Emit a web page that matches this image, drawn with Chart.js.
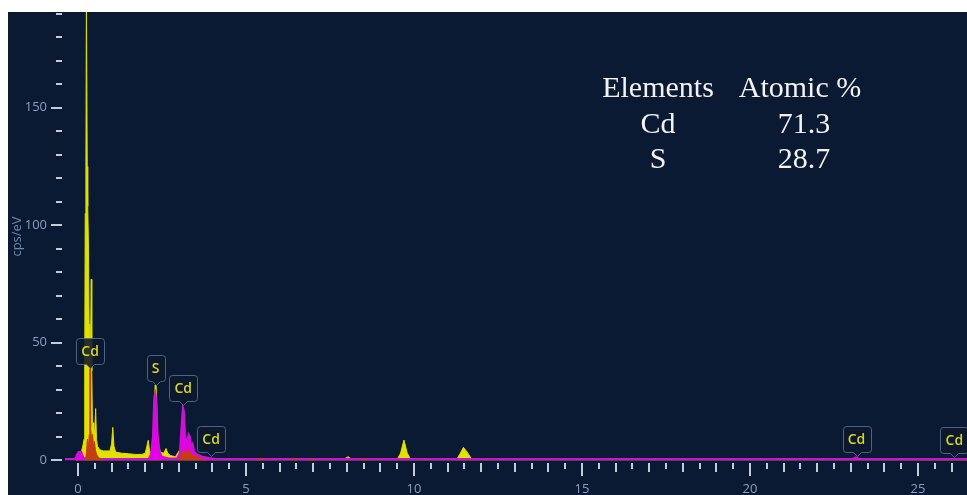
<!DOCTYPE html>
<html><head><meta charset="utf-8">
<script src="https://cdn.jsdelivr.net/npm/chart.js@4/dist/chart.umd.min.js"></script>
<style>html,body{margin:0;padding:0;background:#fff;overflow:hidden}#wrap{position:relative;width:967px;height:495px}</style>
</head><body><div id="wrap"><canvas id="c"></canvas></div>
<script>
// ---- data (energy in keV, intensity in cps/eV) ----
const yellowKeV = [-0.05,0.05,0.10,0.15,0.18,0.20,0.215,0.235,0.25,0.262,0.275,0.29,0.31,0.33,0.35,0.375,0.395,0.41,0.43,0.45,0.47,0.50,0.525,0.55,0.58,0.65,0.75,0.85,0.95,1.00,1.035,1.07,1.12,1.3,1.5,1.7,1.9,2.0,2.05,2.09,2.13,2.2,2.26,2.295,2.325,2.37,2.45,2.55,2.62,2.67,2.75,2.9,3.05,3.13,3.2,3.3,3.45,3.6,3.9,4.3,5.3,7.9,8.04,8.15,9.5,9.6,9.7,9.8,9.9,11.27,11.38,11.47,11.58,11.72,26.5];
const yellowCps = [0,0.8,3.5,6.5,9,40,105,125,196,196,125,108,92,58,45,52,77,38,16,16,11,13,22,9,6,4.5,4,4,4,7,14,6,3.5,3,2.8,2.5,2.5,3,6,8.5,4,3,15,32,32,8,3.5,3,5,3,2,1.5,5,19,6,9,3,1.5,0.8,0.4,0.4,0.4,1.5,0.4,0.4,3,8.6,3,0.4,0.4,3,5.5,3.5,0.4,0.3];

const magentaKeV = [-0.39,-0.08,-0.03,0.02,0.10,0.15,0.20,2.10,2.17,2.23,2.27,2.30,2.33,2.37,2.43,2.50,2.70,2.95,3.03,3.08,3.12,3.15,3.19,3.24,3.29,3.33,3.37,3.41,3.46,3.55,3.70,3.90,4.10,23.05,23.15,23.25,26.46];
const magentaCps = [0.5,0.5,2.5,3.5,3.5,1.5,0.6,0.6,2.5,10,27,28.5,25,11,3.5,1.5,0.8,0.9,3,14,22.5,21,10,7,11,10,6,7,3.5,2.5,1.5,1,0.6,0.6,1.3,0.6,0.5];

const cdKeV = [0.22,0.25,0.28,0.31,0.335,0.35,0.355,0.365,0.375,0.41,0.435,0.46,0.49,0.52,0.57,0.65,0.75,0.8,3.0,3.06,3.13,3.2,3.28,3.35,3.45,3.6,3.8,3.9,5.35,5.42,5.5,5.6,6.35,6.42,6.5,6.6,6.88,6.95,7.02,7.1,8.42,8.5,8.58];
const cdCps  = [0,3,9,5,11,18,39,39,14,8,11,6,8,4,2,0.6,0,null,0,2,4,3,4.5,3,2,1,0,null,0,1,0,null,0,1,0,null,0,0.8,0,null,0,0.8,0];

const peakLabelText = ['Cd','S','Cd','Cd','Cd','Cd'];
const peakLabelKeV  = [0.36,2.31,3.13,3.96,23.17,26.08];
const peakLabelCps  = [39,31.7,23,1.4,1.3,1.0];

const xTickLabels = [0,5,10,15,20,25];
const yTickLabels = [0,50,100,150];

const tableHeader   = ['Elements','Atomic %'];
const tableElements = ['Cd','S'];
const tableAtomic   = ['71.3','28.7'];

// ---- build ----
const pts = (xs, ys) => xs.map((x, i) => ({x: x, y: ys[i]}));

const bgPlugin = {
  id: 'bg',
  beforeDraw(chart) {
    const c = chart.ctx;
    c.save();
    c.fillStyle = '#ffffff';
    c.fillRect(0, 0, chart.width, chart.height);
    c.fillStyle = '#0b1a33';
    c.fillRect(8, 12, chart.width - 8, chart.height - 12);
    c.restore();
  }
};

const tickPlugin = {
  id: 'ticks',
  afterDraw(chart) {
    const c = chart.ctx, xs = chart.scales.x, ys = chart.scales.y, a = chart.chartArea;
    c.save();
    c.fillStyle = '#c3ccda';
    for (let v = 0; v <= 190; v += 10) {
      const py = Math.round(ys.getPixelForValue(v));
      const major = v % 50 === 0;
      const len = major ? 11 : 6;
      c.fillRect(a.left - 3 - len, py - 1, len, 2);
    }
    for (let k = 0; k <= 52; k++) {
      const v = k / 2;
      const px = Math.round(xs.getPixelForValue(v));
      const len = (v % 5 === 0) ? 13 : (Number.isInteger(v) ? 9 : 6);
      c.fillRect(px - 1, a.bottom + 2, 2, len);
    }
    c.restore();
  }
};

function roundRect(c, x, y, w, h, r) {
  c.beginPath();
  c.moveTo(x + r, y);
  c.lineTo(x + w - r, y); c.quadraticCurveTo(x + w, y, x + w, y + r);
  c.lineTo(x + w, y + h - r); c.quadraticCurveTo(x + w, y + h, x + w - r, y + h);
  c.lineTo(x + w / 2 + 4, y + h);
  c.lineTo(x + w / 2, y + h + 4);
  c.lineTo(x + w / 2 - 4, y + h);
  c.lineTo(x + r, y + h); c.quadraticCurveTo(x, y + h, x, y + h - r);
  c.lineTo(x, y + r); c.quadraticCurveTo(x, y, x + r, y);
  c.closePath();
}

const peakLabelPlugin = {
  id: 'peakLabels',
  afterDatasetsDraw(chart) {
    const c = chart.ctx, xs = chart.scales.x, ys = chart.scales.y;
    c.save();
    c.font = '600 14px "Open Sans"';
    c.textAlign = 'center';
    c.textBaseline = 'middle';
    peakLabelText.forEach((t, i) => {
      const px = xs.getPixelForValue(peakLabelKeV[i]);
      const py = ys.getPixelForValue(peakLabelCps[i]);
      const w = Math.round(c.measureText(t).width + 10);
      const h = 26;
      const bx = Math.round(px - w / 2) + 0.5, by = Math.round(py - 5 - h) + 0.5;
      roundRect(c, bx, by, w, h, 3);
      c.fillStyle = 'rgba(12,24,44,0.88)';
      c.fill();
      c.strokeStyle = 'rgba(84,108,142,0.9)';
      c.lineWidth = 1;
      c.stroke();
      c.fillStyle = '#d6d622';
      c.fillText(t, px, by + h / 2 + 1);
    });
    c.restore();
  }
};

const tablePlugin = {
  id: 'table',
  afterDraw(chart) {
    const c = chart.ctx;
    c.save();
    c.font = '30px "Liberation Serif", "Times New Roman", serif';
    c.fillStyle = '#f2f2f2';
    c.textAlign = 'center';
    c.textBaseline = 'alphabetic';
    const col1 = 658, col2 = 800, col2v = 804;
    c.fillText(tableHeader[0], col1, 97);
    c.fillText(tableHeader[1], col2, 97);
    tableElements.forEach((e, i) => {
      const base = 133 + i * 35;
      c.fillText(e, col1, base);
      c.fillText(tableAtomic[i], col2v, base);
    });
    c.restore();
  }
};

const tickFont = {family: '"Open Sans", "DejaVu Sans", sans-serif', size: 13};

new Chart(document.getElementById('c'), {
  type: 'line',
  data: {
    datasets: [
      {label: 'Cd', data: pts(cdKeV, cdCps), order: 0, borderColor: 'rgb(196,62,18)', backgroundColor: 'rgb(196,62,18)', borderWidth: 1, fill: 'origin', spanGaps: false},
      {label: 'Fit', data: pts(magentaKeV, magentaCps), order: 1, borderColor: 'rgb(200,20,210)', backgroundColor: 'rgb(232,0,232)', borderWidth: 2, fill: 'origin'},
      {label: 'Spectrum', data: pts(yellowKeV, yellowCps), order: 2, borderColor: 'rgb(222,222,0)', backgroundColor: 'rgb(226,226,0)', borderWidth: 1, fill: 'origin'}
    ]
  },
  options: {
    responsive: true,
    maintainAspectRatio: false,
    animation: false,
    devicePixelRatio: 1,
    layout: {padding: {left: 8, top: 12, right: 0, bottom: 0}},
    elements: {point: {radius: 0}, line: {tension: 0}},
    plugins: {legend: {display: false}, tooltip: {enabled: false}},
    scales: {
      x: {
        type: 'linear', min: -0.387, max: 26.458,
        grid: {display: false, drawTicks: false}, border: {display: false},
        ticks: {color: '#8d9eba', font: tickFont, padding: 20, maxRotation: 0, autoSkip: false, callback: v => String(v)},
        afterBuildTicks: s => { s.ticks = xTickLabels.map(v => ({value: v})); },
        afterFit: s => { s.height = 34; s.paddingLeft = 0; s.paddingRight = 0; }
      },
      y: {
        type: 'linear', min: -0.3, max: 190.7,
        grid: {display: false, drawTicks: false}, border: {display: false},
        ticks: {color: '#8d9eba', font: tickFont, padding: 18, callback: v => String(v)},
        afterBuildTicks: s => { s.ticks = yTickLabels.map(v => ({value: v})); },
        afterFit: s => { s.width = 57; s.paddingTop = 0; s.paddingBottom = 0; },
        title: {display: true, text: 'cps/eV', color: '#7389ab', font: {family: '"Open Sans", sans-serif', size: 13}, padding: {top: 1, bottom: 0}}
      }
    }
  },
  plugins: [bgPlugin, tickPlugin, peakLabelPlugin, tablePlugin]
});
</script>
</body></html>
